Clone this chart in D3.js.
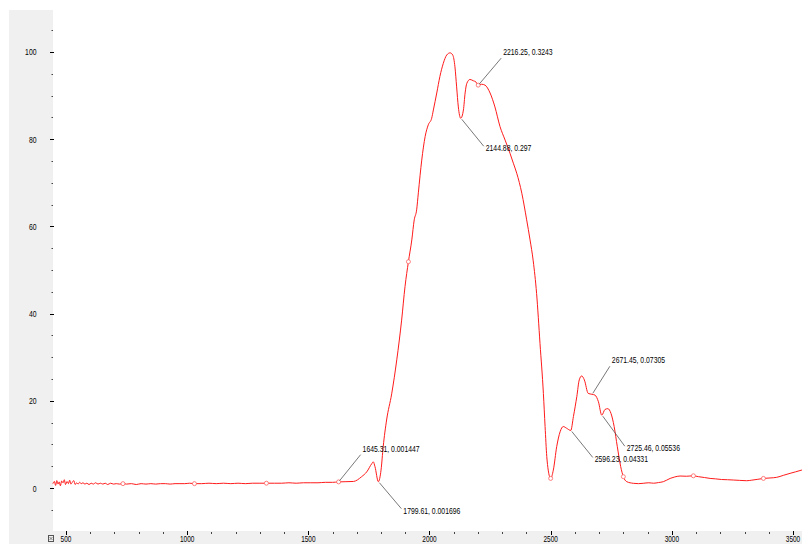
<!DOCTYPE html>
<html><head><meta charset="utf-8">
<script src="https://cdn.jsdelivr.net/npm/d3@7"></script>
<style>
html,body{margin:0;padding:0;background:#fff;}
svg{display:block;}
text{font-family:"Liberation Sans",Arial,sans-serif;font-size:9.5px;fill:#000;}
</style></head>
<body>
<svg id="c" width="802" height="544"></svg>
<script>
// ---- data ----
const wavenumber = [446,452,457,462,467,472,477,482,488,493,498,504,510,515,520,526,532,538,544,550,556,563,570,578,586,595,604,613,622,632,642,652,662,672,684,696,708,720,735,750,770,790,810,830,850,870,890,910,930,950,970,990,1010,1030,1060,1090,1120,1150,1180,1210,1240,1270,1300,1327,1360,1390,1420,1450,1480,1510,1540,1570,1600,1625,1655,1686,1720,1741,1762,1768,1775,1789,1800,1809,1823,1844,1865,1885,1899,1913,1927,1937,1947,1954,1968,1982,1995,2009,2016,2030,2043,2057,2071,2085,2096,2105,2112,2119,2129,2140,2147,2154,2167,2181,2192,2201,2215,2229,2250,2270,2291,2312,2332,2346,2360,2381,2401,2415,2428,2442,2456,2470,2477,2484,2490,2500,2511,2525,2539,2552,2566,2583,2594,2608,2618,2628,2639,2655,2670,2683,2697,2711,2724,2736,2749,2762,2775,2789,2800,2814,2841,2862,2882,2905,2925,2945,2965,2993,3010,3034,3060,3089,3110,3135,3158,3180,3205,3230,3254,3280,3309,3330,3355,3378,3405,3433,3460,3488,3510,3537];
const intensity  = [1.0,1.5,0.6,1.7,0.9,1.4,0.5,1.6,1.2,1.9,0.8,1.5,1.0,1.8,0.9,1.3,1.7,0.8,1.2,0.9,1.3,1.0,1.2,0.9,1.1,0.8,1.1,0.9,1.2,0.9,1.1,0.9,1.1,0.8,1.1,0.9,1.0,0.9,1.0,0.9,1.0,0.8,1.0,0.9,1.0,0.9,1.0,1.0,0.9,1.0,1.0,1.0,1.1,1.0,1.0,1.1,1.0,1.1,1.0,1.1,1.0,1.1,1.1,1.1,1.1,1.1,1.2,1.1,1.2,1.2,1.2,1.3,1.3,1.4,1.45,1.5,2.6,3.7,5.6,6.0,4.9,1.45,4.1,9.5,15.6,21.6,29.4,38.5,46.2,51.9,56.9,61.5,63.8,67.7,75.2,80.6,83.3,84.8,86.7,90.6,94.4,97.4,99.3,99.8,99.3,96.6,92.0,87.4,84.8,86.7,90.6,92.8,93.7,93.4,93.1,92.4,92.6,92.4,90.6,87.4,82.9,79.8,76.8,74.5,72.2,67.6,61.5,56.9,52.1,44.6,33.2,21.7,14.1,7.2,4.1,2.2,4.1,9.5,12.9,14.1,13.7,13.2,16.4,21.0,24.8,25.7,24.8,21.7,21.5,21.3,19.8,16.7,18.0,18.2,17.1,14.1,9.5,4.9,2.6,1.45,1.08,1.0,1.08,1.2,1.1,1.25,1.45,2.2,2.5,2.75,2.7,2.8,2.6,2.4,2.2,2.1,1.95,1.9,1.83,1.75,1.67,1.8,2.0,2.2,2.3,2.45,2.9,3.36,3.7,4.13];
const markerWavenumbers = [735,1030,1327,1625,1913,2201,2500,2800,3089,3378];
const annotationX = [1625,1789,2129,2201,2583,2670,2711];
const annotationY = [1.45,1.45,84.8,92.4,13.2,21.5,16.7];
const annotationText = ["1645.31, 0.001447","1799.61, 0.001696","2144.88, 0.297","2216.25, 0.3243","2596.23, 0.04331","2671.45, 0.07305","2725.46, 0.05536"];
const xTickLabels = [500,1000,1500,2000,2500,3000,3500];
const yTickLabels = [0,20,40,60,80,100];

// ---- layout ----
const svg = d3.select("#c");
const L = 53, R = 802, T = 10, B = 531;
const NARROW = 0.72;
const x = d3.scaleLinear().domain([446.35, 3537.2]).range([L, R]);
const y = d3.scaleLinear().domain([-9.86, 109.63]).range([B, T]);

function narrowText(parent, tx, ty, str, anchor) {
  return parent.append("text")
    .attr("transform", `translate(${tx},${ty}) scale(${NARROW},1)`)
    .attr("text-anchor", anchor || "start").text(str);
}

svg.append("rect").attr("x",9).attr("y",10).attr("width",802-9).attr("height",544-10).attr("fill","#f0f0f0");
svg.append("rect").attr("x",L).attr("y",T).attr("width",R-L).attr("height",B-T).attr("fill","#fff");

const g = svg.append("g");
// y axis
const yMinor = d3.range(-5, 110, 5).filter(v => v % 20 !== 0);
g.selectAll(".ymin").data(yMinor).join("line")
  .attr("x1",51.5).attr("x2",53).attr("y1",d=>Math.round(y(d))+0.5).attr("y2",d=>Math.round(y(d))+0.5)
  .attr("stroke","#444").attr("stroke-width",1);
g.selectAll(".ymaj").data(yTickLabels).join("line")
  .attr("x1",50).attr("x2",54).attr("y1",d=>Math.round(y(d))+0.5).attr("y2",d=>Math.round(y(d))+0.5)
  .attr("stroke","#000").attr("stroke-width",1);
yTickLabels.forEach(v => narrowText(g, 36.5, y(v)+3.5, v, "end"));

// x axis
const xMinor = d3.range(500, 3600, 100).filter(v => v % 500 !== 0);
g.selectAll(".xmin").data(xMinor).join("line")
  .attr("x1",d=>Math.round(x(d))+0.5).attr("x2",d=>Math.round(x(d))+0.5).attr("y1",532).attr("y2",534)
  .attr("stroke","#444");
g.selectAll(".xmaj").data(xTickLabels).join("line")
  .attr("x1",d=>Math.round(x(d))+0.5).attr("x2",d=>Math.round(x(d))+0.5).attr("y1",531).attr("y2",535)
  .attr("stroke","#000");
xTickLabels.forEach(v => narrowText(g, x(v), 541.5, v, "middle").style("font-size","9px"));
// small icon bottom-left
svg.append("rect").attr("x",48.5).attr("y",535.5).attr("width",5).attr("height",6).attr("fill","none").attr("stroke","#555");
svg.append("path").attr("d","M49.5,537 L52.5,540 M52.5,537 L49.5,540").attr("stroke","#555").attr("stroke-width",0.7);

// curve
const pts = wavenumber.map((w,i)=>[w, intensity[i]]);
const line = d3.line().x(d=>x(d[0])).y(d=>y(d[1])).curve(d3.curveMonotoneX);
svg.append("path").datum(pts).attr("d",line).attr("fill","none").attr("stroke","#ff1a1a").attr("stroke-width",1);

// markers (nearest data point)
const markers = markerWavenumbers.map(m => pts.reduce((a,b)=>Math.abs(b[0]-m)<Math.abs(a[0]-m)?b:a));
svg.selectAll(".mk").data(markers).join("circle")
  .attr("cx",d=>x(d[0])).attr("cy",d=>y(d[1])).attr("r",2)
  .attr("fill","#fff").attr("stroke","#ff6060").attr("stroke-width",0.8);

// annotations
const labelOffset = [[22,-27],[23,27],[23,28],[23,-27],[22,27],[18,-28],[23,31]];
annotationText.forEach((t,i)=>{
  const ax = x(annotationX[i]), ay = y(annotationY[i]);
  const [dx,dy] = labelOffset[i];
  svg.append("line").attr("x1",ax+1).attr("y1",ay+(dy<0?-1:1)).attr("x2",ax+dx).attr("y2",ay+dy)
    .attr("stroke","#555").attr("stroke-width",0.8);
  narrowText(svg, ax+dx+2, ay+dy+(dy<0?-3:5), t);
});
</script>
</body></html>
